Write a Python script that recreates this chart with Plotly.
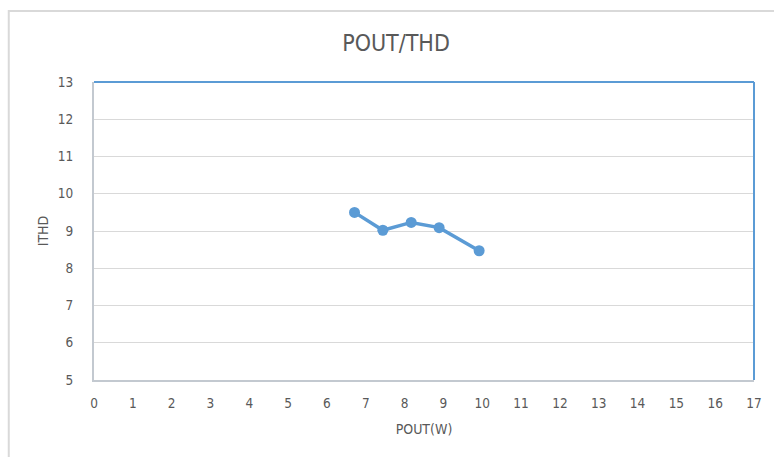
import plotly.graph_objects as go

pout_w = [6.71, 7.44, 8.17, 8.89, 9.92]
ithd = [9.50, 9.02, 9.23, 9.09, 8.47]
x_ticks = list(range(0, 18))
y_ticks = list(range(5, 14))

W, H = 774, 457
L, R, T, B = 94, 18, 82, 77
pw, ph = W - L - R, H - T - B

fig = go.Figure()
fig.add_trace(go.Scatter(
    x=pout_w, y=ithd, mode="lines+markers",
    line=dict(color="#5B9BD5", width=3.5),
    marker=dict(color="#5B9BD5", size=11),
    showlegend=False, cliponaxis=False,
))

font = "DejaVu Sans Condensed, DejaVu Sans, sans-serif"
fig.update_layout(
    width=W, height=H,
    margin=dict(l=L, r=R, t=T, b=B),
    paper_bgcolor="white", plot_bgcolor="white",
    font=dict(family=font, color="#595959", size=13.5),
    title=dict(text="POUT/THD", x=396 / W, xanchor="center", y=1 - 43 / H, yanchor="middle",
               font=dict(size=23, color="#595959", family=font)),
    xaxis=dict(range=[0, 17], tickvals=x_ticks, showgrid=False, zeroline=False,
               showline=True, linecolor="#C3C9D0", linewidth=2, ticks="",
               ticklabelstandoff=10,
               title=dict(text="POUT(W)", font=dict(size=14), standoff=14),
               fixedrange=True),
    yaxis=dict(range=[5, 13], tickvals=y_ticks, showgrid=True, gridcolor="#D9D9D9",
               gridwidth=1, zeroline=False, showline=True, linecolor="#C3C9D0",
               linewidth=2, ticks="", ticklabelstandoff=16,
               title=dict(text="ITHD", font=dict(size=14), standoff=6),
               fixedrange=True),
)

# blue top and right plot border
fig.add_shape(type="line", xref="paper", yref="paper", x0=0, x1=1, y0=1, y1=1,
              line=dict(color="#5B9BD5", width=2))
fig.add_shape(type="line", xref="paper", yref="paper", x0=1, x1=1, y0=0, y1=1,
              line=dict(color="#5B9BD5", width=2))
# outer chart border (light gray)
fig.add_shape(type="rect", xref="paper", yref="paper",
              x0=(8.5 - L) / pw, x1=(W + 10 - L) / pw,
              y0=-(H + 10 - (T + ph)) / ph, y1=1 + (T - 11) / ph,
              line=dict(color="#D9D9D9", width=2), layer="below")

fig.write_html("out.html", config={"displayModeBar": False},
               post_script="document.body.style.margin='0';")
